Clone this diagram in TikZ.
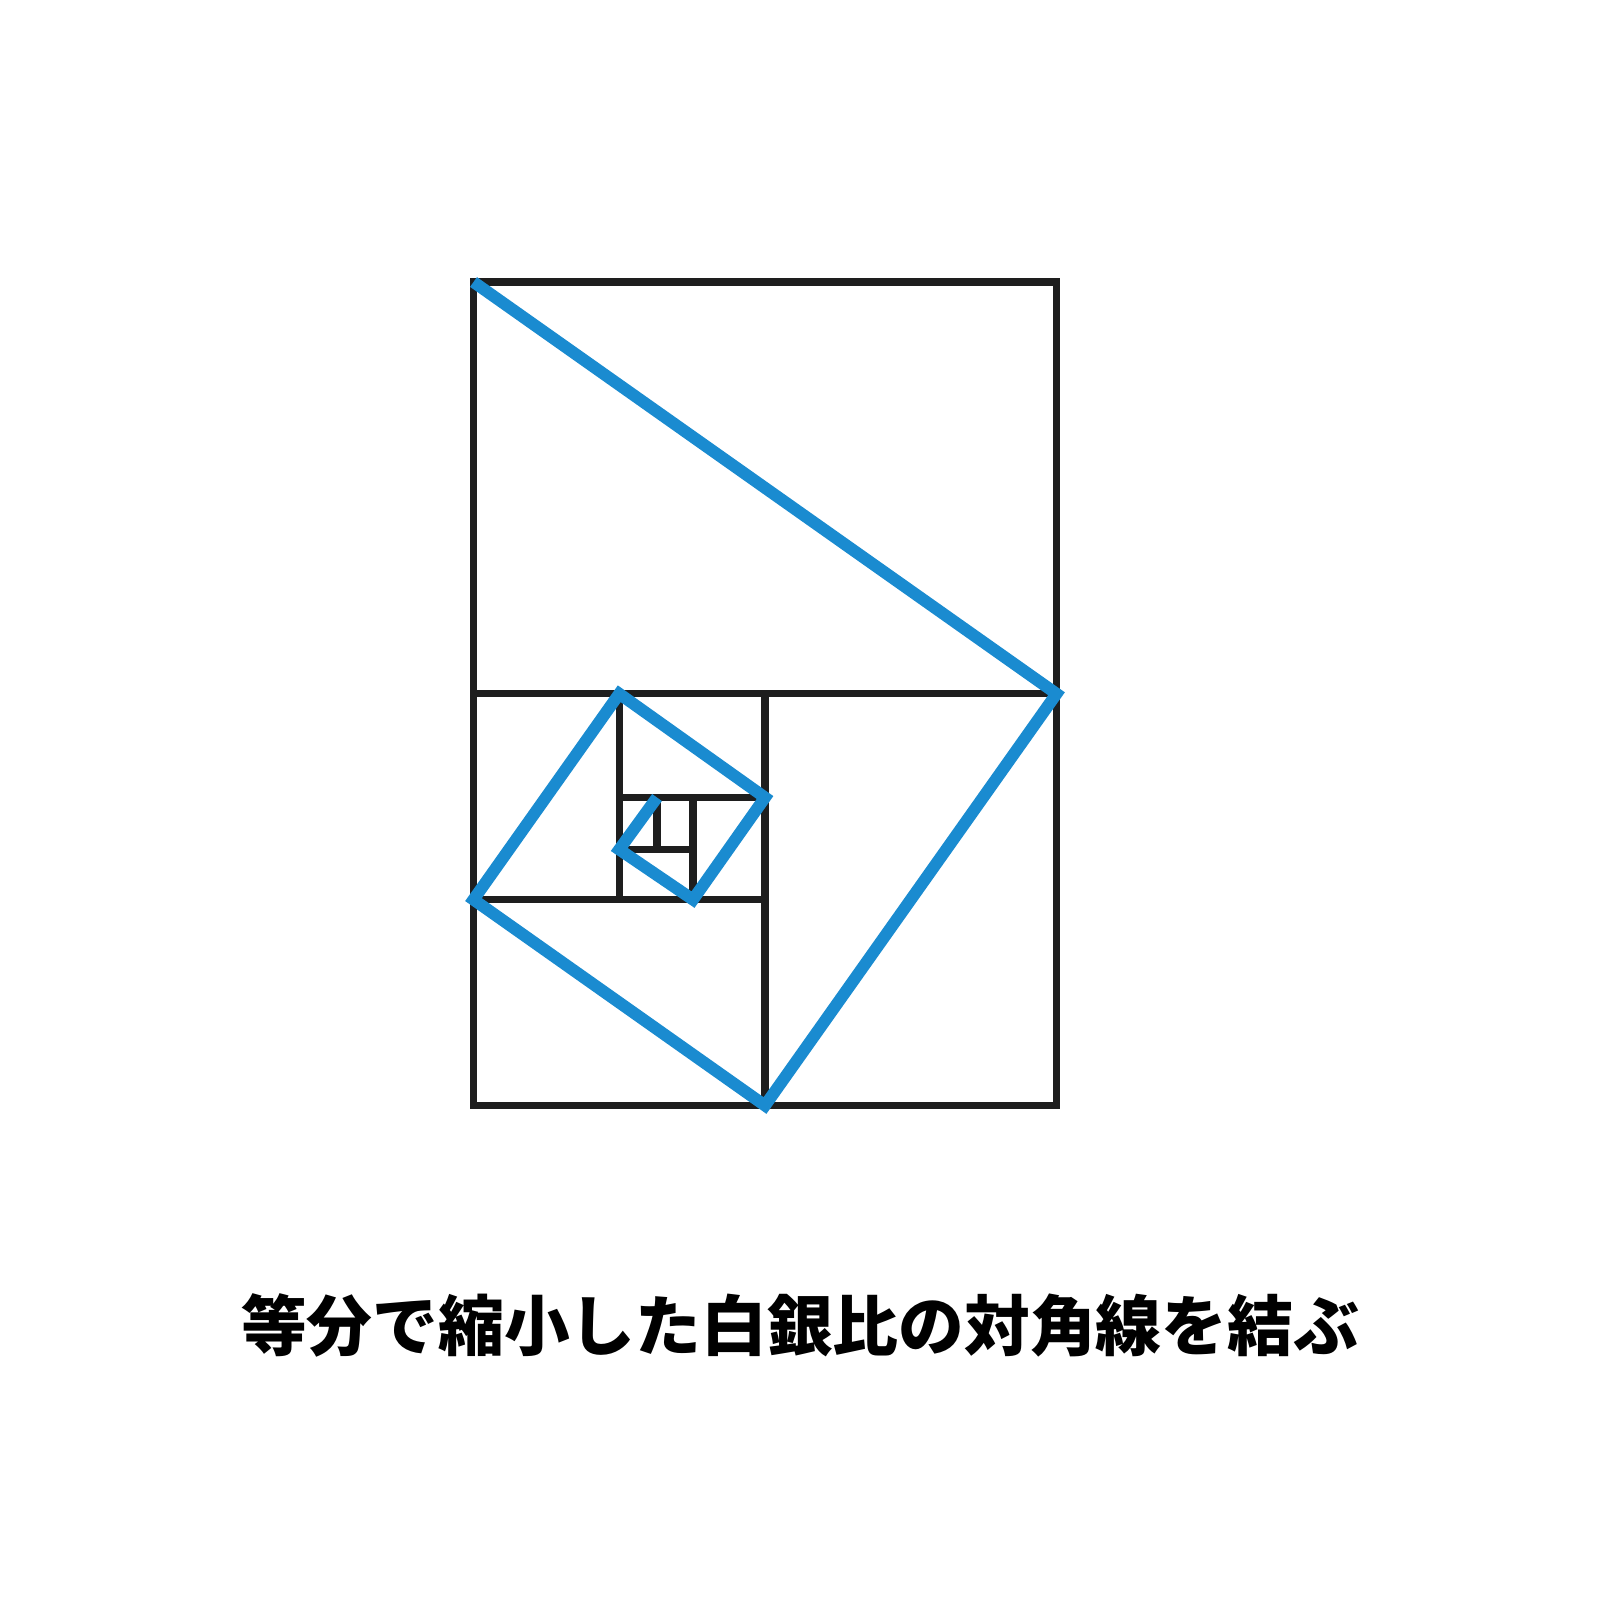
\documentclass[tikz,border=0pt]{standalone}
\usepackage{fontspec}
\usepackage{xcolor}
\usepackage{tikz}
\usetikzlibrary{positioning,calc}
\newfontfamily\jpfont{Noto Sans CJK JP}
\definecolor{framegray}{RGB}{30,30,30}
\definecolor{diagblue}{RGB}{26,139,208}

\begin{document}
\begin{tikzpicture}[x=0.01cm, y=-0.01cm]
    % Define styles
    \tikzstyle{frame} = [draw=framegray, line width=7.5pt*0.2835, line join=miter]
    \tikzstyle{diagonal} = [draw=diagblue, line width=12pt*0.2835, line join=miter, line cap=butt]
    \tikzstyle{caption} = [font=\jpfont\bfseries\fontsize{18.7pt}{22pt}\selectfont, text=black, inner sep=0pt]

    \useasboundingbox (0,0) rectangle (1600,1600);

    % Corners of the silver rectangle
    \coordinate (tl) at (473.5,282);
    \coordinate (tr) at (1056.5,282);
    \coordinate (br) at (1056.5,1105.5);
    \coordinate (bl) at (473.5,1105.5);

    % Division points
    \coordinate (h1l) at (473.5,693.75);
    \coordinate (h1r) at (1056.5,693.75);
    \coordinate (v1t) at (765,693.75);
    \coordinate (v1b) at (765,1105.5);
    \coordinate (h2l) at (473.5,899.6);
    \coordinate (h2r) at (765,899.6);
    \coordinate (v2t) at (619.25,693.75);
    \coordinate (v2b) at (619.25,899.6);
    \coordinate (h3l) at (619.25,797.5);
    \coordinate (h3r) at (765,797.5);
    \coordinate (v3t) at (693,797.5);
    \coordinate (v3b) at (693,899.6);
    \coordinate (h4l) at (619.25,849.5);
    \coordinate (h4r) at (693,849.5);
    \coordinate (v4t) at (657,797.5);
    \coordinate (v4b) at (657,849.5);

    % Rectangles
    \draw [frame] (tl) -- (tr) -- (br) -- (bl) -- cycle;
    \draw [frame] (h1l) -- (h1r);
    \draw [frame] (v1t) -- (v1b);
    \draw [frame] (h2l) -- (h2r);
    \draw [frame] (v2t) -- (v2b);
    \draw [frame] (h3l) -- (h3r);
    \draw [frame] (v3t) -- (v3b);
    \draw [frame] (h4l) -- (h4r);
    \draw [frame] (v4t) -- (v4b);

    % Diagonals
    \draw [diagonal] (tl) -- (h1r) -- (v1b) -- (h2l) -- (v2t) -- (h3r) -- (v3b) -- (h4l) -- (v4t);

    % Caption
    \node [caption] (title) at (800,1325) {等分で縮小した白銀比の対角線を結ぶ};
\end{tikzpicture}
\end{document}
